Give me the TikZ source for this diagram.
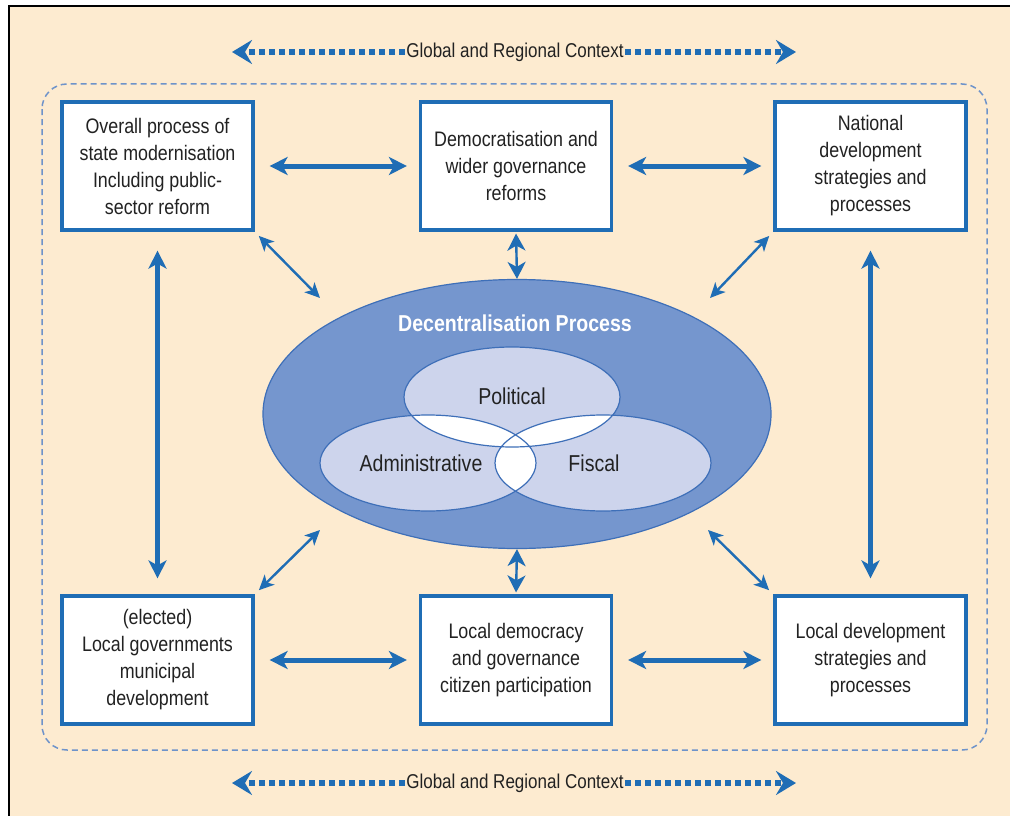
\documentclass[tikz,border=0pt]{standalone}
\usepackage{fontspec}
\setmainfont{Liberation Sans}[FakeStretch=0.85]
\usetikzlibrary{arrows.meta,shapes.geometric}

\definecolor{peach}{HTML}{FDEBD0}
\definecolor{arrowblue}{HTML}{1F6DB5}
\definecolor{dpfill}{HTML}{7596CE}
\definecolor{dpline}{HTML}{3E6FB8}
\definecolor{venn}{HTML}{CDD4EC}
\definecolor{txt}{HTML}{222222}

\begin{document}
\begin{tikzpicture}[x=1pt, y=-1pt]

    \tikzstyle{box}=[draw=arrowblue, line width=3.2pt, fill=white, minimum width=191pt, minimum height=128pt, align=center, text=txt, font=\fontsize{21}{27}\selectfont];
    \tikzstyle{big}=[<->, arrowblue, line width=5pt, >={Stealth[length=18pt, width=18pt, inset=5pt]}];
    \tikzstyle{small}=[<->, arrowblue, line width=2.4pt, >={Stealth[length=15pt, width=14pt, inset=4pt]}];
    \tikzstyle{short}=[<->, arrowblue, line width=2.4pt, >={Stealth[length=17pt, width=18pt, inset=5pt]}];
    \tikzstyle{dots}=[->, arrowblue, line width=6pt, dash pattern=on 6pt off 4pt, >={Stealth[length=20pt, width=24pt, inset=7pt]}];

    % background and frame
    \useasboundingbox (0,0) rectangle (1010,816);
    \fill[peach] (9,7) rectangle (1012,818);
    \draw[black, line width=2.5pt] (9,818) -- (9,6) -- (1012,6);
    \draw[dpline!75, line width=1.5pt, dash pattern=on 6pt off 4pt, rounded corners=25pt] (42,84) rectangle (987,750);

    % context arrows
    \node[text=txt, font=\fontsize{20}{24}\selectfont, inner sep=1pt] (g1) at (515,52) {Global and Regional Context};
    \node[text=txt, font=\fontsize{20}{24}\selectfont, inner sep=1pt] (g2) at (515,783) {Global and Regional Context};
    \coordinate (g1l) at (232,52);
    \coordinate (g1r) at (796,52);
    \coordinate (g2l) at (232,783);
    \coordinate (g2r) at (796,783);
    \draw (g1.west) edge[dots] (g1l);
    \draw (g1.east) edge[dots] (g1r);
    \draw (g2.west) edge[dots] (g2l);
    \draw (g2.east) edge[dots] (g2r);

    % boxes
    \node[box] (1) at (157.5,166) {Overall process of\\state modernisation\\Including public-\\sector reform};
    \node[box] (2) at (516,166)   {Democratisation and\\wider governance\\reforms};
    \node[box] (3) at (870.5,166) {National\\development\\strategies and\\processes};
    \node[box] (4) at (157.5,660) {(elected)\\Local governments\\municipal\\development};
    \node[box] (5) at (516,660)   {Local democracy\\and governance\\citizen participation};
    \node[box] (6) at (870.5,660) {Local development\\strategies and\\processes};

    % decentralisation ellipse
    \node[ellipse, draw=dpline, line width=1.2pt, fill=dpfill, minimum width=508pt, minimum height=269pt, inner sep=0pt] (dp) at (517,414) {};
    \node[text=white, font=\bfseries\fontsize{23}{27}\selectfont] (dpt) at (515,323) {Decentralisation Process};

    \fill[venn] (512,397) ellipse [x radius=108, y radius=50];
    \fill[venn] (428,463) ellipse [x radius=108, y radius=48];
    \fill[venn] (603,463) ellipse [x radius=108, y radius=48];
    \begin{scope}
        \clip (512,397) ellipse [x radius=108, y radius=50];
        \fill[white] (428,463) ellipse [x radius=108, y radius=48];
        \fill[white] (603,463) ellipse [x radius=108, y radius=48];
    \end{scope}
    \begin{scope}
        \clip (428,463) ellipse [x radius=108, y radius=48];
        \fill[white] (603,463) ellipse [x radius=108, y radius=48];
    \end{scope}
    \draw[dpline, line width=1.2pt] (512,397) ellipse [x radius=108, y radius=50];
    \draw[dpline, line width=1.2pt] (428,463) ellipse [x radius=108, y radius=48];
    \draw[dpline, line width=1.2pt] (603,463) ellipse [x radius=108, y radius=48];

    \node[text=txt, font=\fontsize{23}{27}\selectfont] (pol) at (512,396) {Political};
    \node[text=txt, font=\fontsize{23}{27}\selectfont] (adm) at (421,463) {Administrative};
    \node[text=txt, font=\fontsize{23}{27}\selectfont] (fis) at (594,463) {Fiscal};

    % arrows between boxes
    \draw (1) edge[big, shorten <=15pt, shorten >=12pt] (2);
    \draw (2) edge[big, shorten <=15pt, shorten >=12pt] (3);
    \draw (4) edge[big, shorten <=15pt, shorten >=12pt] (5);
    \draw (5) edge[big, shorten <=15pt, shorten >=12pt] (6);
    \draw (1) edge[big, shorten <=19pt, shorten >=16pt] (4);
    \draw (3) edge[big, shorten <=19pt, shorten >=16pt] (6);

    % arrows to the ellipse
    \draw (2.south) edge[short, shorten <=2pt] (dp.north);
    \draw (5.north) edge[short, shorten <=2pt] (dp.south);

    \coordinate (d1) at (320,298);
    \coordinate (d3) at (710,298);
    \coordinate (d4) at (320,530);
    \coordinate (d6) at (708,530);
    \draw (1.south east) edge[small, shorten <=6pt] (d1);
    \draw (3.south west) edge[small, shorten <=6pt] (d3);
    \draw (4.north east) edge[small, shorten <=6pt] (d4);
    \draw (6.north west) edge[small, shorten <=6pt] (d6);
    \end{tikzpicture}
\end{document}
